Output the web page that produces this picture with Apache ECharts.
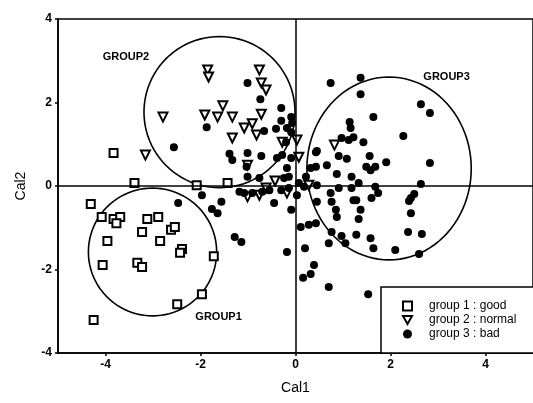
<!DOCTYPE html>
<html>
<head>
<meta charset="utf-8">
<script src="https://cdn.jsdelivr.net/npm/echarts@6/dist/echarts.min.js"></script>
<style>html,body{margin:0;padding:0;background:#fff;}#c{width:533px;height:403px;}</style>
</head>
<body>
<div id="c"></div>
<script>
const xTicks = [-4, -2, 0, 2, 4];
const yTicks = [-4, -2, 0, 2, 4];
const seriesNames = ['group 1 : good', 'group 2 : normal', 'group 3 : bad'];

const group1X = [-3.39,-2.08,-1.43,-3.83,-4.31,-4.08,-3.83,-3.69,-3.77,-3.12,-2.89,-3.23,-3.96,-2.85,-2.62,-2.54,-2.39,-2.43,-1.72,-4.06,-3.33,-3.23,-1.97,-2.49,-4.25];
const group1Y = [0.07,0.02,0.07,0.79,-0.43,-0.74,-0.79,-0.74,-0.89,-0.79,-0.74,-1.10,-1.32,-1.32,-1.05,-0.98,-1.51,-1.60,-1.68,-1.89,-1.84,-1.94,-2.59,-2.83,-3.21];

const group2X = [-1.85,-1.83,-0.76,-0.72,-0.62,-1.53,-1.91,-1.64,-1.33,-0.72,-0.91,-1.08,-1.33,-0.82,-2.79,-3.16,-0.28,0.03,0.07,-0.43,-1.01,-1.01,-0.76,-0.18,-0.62,0.82,0.28];
const group2Y = [2.78,2.61,2.78,2.47,2.30,1.92,1.70,1.65,1.65,1.72,1.49,1.39,1.15,1.22,1.65,0.74,1.05,1.10,0.69,0.12,0.50,-0.26,-0.22,-0.17,-0.05,0.98,0.02];

const group3X = [-1.01,-0.74,-1.87,-2.56,-1.39,-1.33,-1.01,-0.72,-1.03,-0.39,-0.28,-0.09,-0.18,-1.01,-0.76,-0.24,-0.14,-0.66,-0.41,-0.18,-0.09,-0.30,-0.30,-0.09,-0.07,-0.20,
  -1.18,-1.08,-0.91,-0.70,-0.55,-0.30,-0.14,0.07,0.18,0.32,0.43,-2.47,-1.97,-1.76,-1.64,-1.56,-1.28,-1.14,-0.45,0.03,-0.09,-0.18,0.11,0.28,0.43,0.20,0.39,0.32,0.16,0.70,1.53,
  0.74,1.37,1.37,1.64,1.14,1.16,0.97,1.12,1.22,1.43,2.27,0.45,0.91,1.08,1.56,1.91,0.66,1.49,1.68,0.43,0.87,1.18,1.33,0.22,0.45,0.91,1.18,0.74,1.68,1.74,1.58,2.50,2.43,2.39,
  0.45,0.76,1.22,1.28,1.60,0.85,0.87,1.37,1.33,2.43,0.76,0.97,1.28,1.58,1.64,0.70,1.05,2.37,2.66,2.10,2.64,2.83,2.83,2.64,2.60];
const group3Y = [2.47,2.08,1.41,0.93,0.77,0.62,0.79,0.72,0.46,0.67,0.74,0.67,0.43,0.22,0.19,0.19,0.22,1.32,1.37,1.39,1.29,1.87,1.56,1.65,1.51,1.05,
  -0.14,-0.17,-0.17,-0.14,-0.10,-0.10,-0.05,0.07,-0.02,0.43,0.81,-0.41,-0.22,-0.55,-0.65,-0.38,-1.22,-1.34,-0.41,-0.22,-0.57,-1.58,-0.98,-0.93,-0.89,-1.49,-1.89,-2.11,-2.20,-2.42,-2.59,
  2.47,2.59,2.20,1.65,1.53,1.39,1.15,1.10,1.17,1.05,1.20,0.84,0.72,0.65,0.72,0.57,0.50,0.46,0.46,0.46,0.29,0.22,0.07,0.22,0.02,-0.05,-0.05,-0.17,-0.02,-0.17,0.38,-0.19,-0.29,-0.36,
  -0.38,-0.38,-0.34,-0.34,-0.29,-0.57,-0.74,-0.57,-0.79,-0.65,-1.10,-1.20,-1.17,-1.25,-1.49,-1.37,-1.37,-1.10,-1.15,-1.53,1.96,1.75,0.55,0.05,-1.63];

const circleNames = ['GROUP1', 'GROUP2', 'GROUP3'];
const circleX = [-3.01, -1.60, 1.97];
const circleY = [-1.58, 1.77, 0.42];
const circleRX = [1.35, 1.59, 1.73];
const circleRY = [1.53, 1.81, 2.19];
const labelX = [-1.62, -3.57, 3.18];
const labelY = [-3.14, 3.09, 2.61];

const zip = (xs, ys) => xs.map((x, i) => [x, ys[i]]);
const FONT = 'Liberation Sans, Arial, sans-serif';
const DOWN_TRIANGLE = 'path://M0,0 L10,0 L5,9 Z';

const chart = echarts.init(document.getElementById('c'));
chart.setOption({
  animation: false,
  backgroundColor: '#fff',
  grid: { left: 58, right: -4, top: 19, bottom: 50, show: true, borderColor: '#000', borderWidth: 1.5, backgroundColor: 'transparent' },
  xAxis: {
    type: 'value', min: -5, max: 5,
    name: 'Cal1', nameLocation: 'middle', nameGap: 28,
    nameTextStyle: { fontFamily: FONT, fontSize: 14, color: '#000' },
    axisLine: { onZero: false, lineStyle: { color: '#000', width: 1.5 } },
    axisTick: { show: true, customValues: xTicks, length: 3, lineStyle: { color: '#000', width: 1.5 } },
    axisLabel: { customValues: xTicks, fontFamily: FONT, fontWeight: 'bold', fontSize: 12, color: '#000', margin: 6 },
    splitLine: { show: false }
  },
  yAxis: {
    type: 'value', min: -4, max: 4, interval: 2,
    name: 'Cal2', nameLocation: 'middle', nameGap: 30, nameRotate: 90,
    nameTextStyle: { fontFamily: FONT, fontSize: 14, color: '#000' },
    axisLine: { onZero: false, lineStyle: { color: '#000', width: 1.5 } },
    axisTick: { show: true, length: 3, lineStyle: { color: '#000', width: 1.5 } },
    axisLabel: { fontFamily: FONT, fontWeight: 'bold', fontSize: 12, color: '#000', margin: 6 },
    splitLine: { show: false }
  },
  legend: {
    data: [
      { name: seriesNames[0] },
      { name: seriesNames[1], icon: DOWN_TRIANGLE },
      { name: seriesNames[2] }
    ],
    orient: 'vertical', left: 381, top: 287,
    itemWidth: 9, itemHeight: 9, itemGap: 2,
    symbolKeepAspect: true,
    padding: [13, 40, 13, 21],
    borderColor: '#000', borderWidth: 1.5, backgroundColor: '#fff',
    textStyle: { fontFamily: FONT, fontSize: 12, lineHeight: 12, color: '#000', padding: [0, 0, 0, 12] }
  },
  series: [
    {
      name: 'circles', type: 'custom',
      data: circleX.map((x, i) => [x, circleY[i], circleRX[i], circleRY[i]]),
      encode: { x: 0, y: 1 },
      renderItem: function (params, api) {
        const cx = api.value(0), cy = api.value(1), rx = api.value(2), ry = api.value(3);
        const pts = [];
        for (let k = 0; k < 96; k++) {
          const t = k / 96 * Math.PI * 2;
          pts.push(api.coord([cx + rx * Math.cos(t), cy + ry * Math.sin(t)]));
        }
        return { type: 'polygon', shape: { points: pts }, style: { fill: 'none', stroke: '#000', lineWidth: 1.6 } };
      },
      z: 1
    },
    {
      name: 'labels', type: 'scatter',
      data: labelX.map((x, i) => ({ value: [x, labelY[i]], name: circleNames[i] })),
      symbolSize: 1, itemStyle: { color: 'rgba(0,0,0,0)', opacity: 1 },
      label: { show: true, position: 'inside', formatter: p => p.name, fontFamily: FONT, fontWeight: 'bold', fontSize: 11, color: '#000', opacity: 1 },
      z: 2
    },
    {
      name: seriesNames[0], type: 'scatter', symbol: 'rect', symbolSize: 8,
      data: zip(group1X, group1Y),
      itemStyle: { color: '#fff', borderColor: '#000', borderWidth: 2, opacity: 1 },
      markLine: {
        silent: true, symbol: ['none', 'none'], label: { show: false },
        lineStyle: { color: '#000', width: 1.5, type: 'solid' },
        data: [{ xAxis: 0 }, { yAxis: 0 }]
      },
      z: 3
    },
    {
      name: seriesNames[1], type: 'scatter', symbol: 'triangle', symbolRotate: 180, symbolSize: 9,
      data: zip(group2X, group2Y),
      itemStyle: { color: '#fff', borderColor: '#000', borderWidth: 2, opacity: 1 },
      z: 4
    },
    {
      name: seriesNames[2], type: 'scatter', symbol: 'circle', symbolSize: 8,
      data: zip(group3X, group3Y),
      itemStyle: { color: '#000', opacity: 1 },
      z: 5
    }
  ]
});
</script>
</body>
</html>
